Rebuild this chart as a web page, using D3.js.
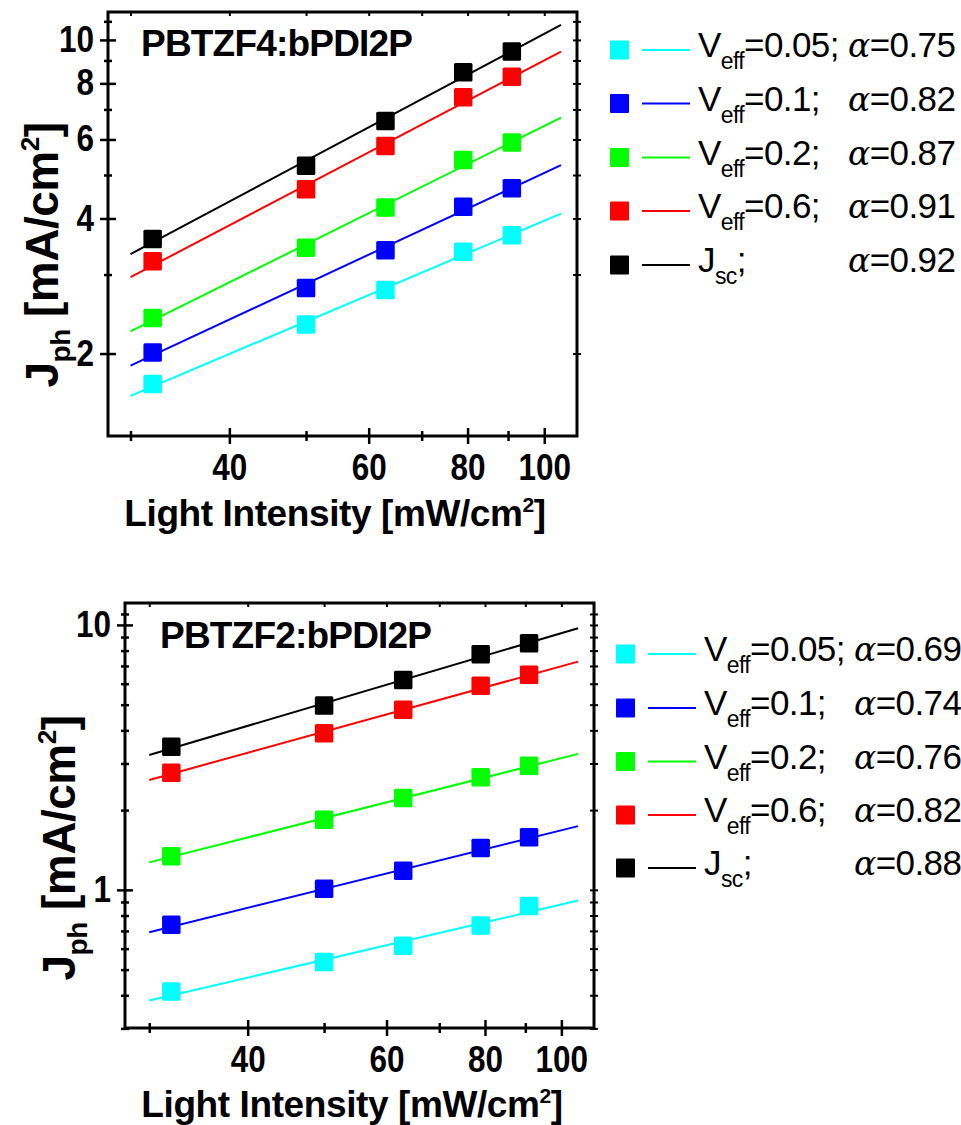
<!DOCTYPE html>
<html><head><meta charset="utf-8">
<script src="https://cdn.jsdelivr.net/npm/d3@7"></script>
<style>
body{margin:0;background:#fff}
svg{display:block}
text{font-family:"Liberation Sans",Arial,Helvetica,sans-serif}
</style>
</head><body>
<svg id="chart" width="961" height="1125"></svg>
<script>
// ---------------- DATA ----------------
const intensity = [32, 50, 63, 79, 91];          // mW/cm^2, measured points
const fitIntensity = [30, 105];                   // extent of the fitted lines
const xTickValues = [30, 40, 50, 60, 70, 80, 90, 100];
const xTickLabels = {40: "40", 60: "60", 80: "80", 100: "100"};
const seriesColors = ["#00ffff", "#0000ff", "#00ff00", "#ff0000", "#000000"];
const seriesMain = ["V", "V", "V", "V", "J"];
const seriesSub = ["eff", "eff", "eff", "eff", "sc"];
const seriesRest = ["=0.05;", "=0.1;", "=0.2;", "=0.6;", ";"];

// Panel A : PBTZF4:bPDI2P
const titleA = "PBTZF4:bPDI2P";
const jphA_V005 = [1.71, 2.32, 2.77, 3.37, 3.67];
const jphA_V01  = [2.01, 2.80, 3.40, 4.25, 4.67];
const jphA_V02  = [2.40, 3.44, 4.23, 5.40, 5.91];
const jphA_V06  = [3.21, 4.65, 5.80, 7.45, 8.28];
const jphA_Jsc  = [3.60, 5.24, 6.60, 8.47, 9.42];
const fitA_V005 = [1.61, 4.10];
const fitA_V01  = [1.88, 5.26];
const fitA_V02  = [2.24, 6.71];
const fitA_V06  = [2.96, 9.42];
const fitA_Jsc  = [3.33, 10.8];
const alphaA = ["0.75", "0.82", "0.87", "0.91", "0.92"];
const yTickValuesA = [2, 3, 4, 5, 6, 7, 8, 9, 10, 11];
const yTickLabelsA = {2: "2", 4: "4", 6: "6", 8: "8", 10: "10"};

// Panel B : PBTZF2:bPDI2P
const titleB = "PBTZF2:bPDI2P";
const jphB_V005 = [0.413, 0.534, 0.615, 0.733, 0.870];
const jphB_V01  = [0.738, 1.01, 1.18, 1.44, 1.58];
const jphB_V02  = [1.34, 1.84, 2.22, 2.66, 2.94];
const jphB_V06  = [2.77, 3.90, 4.78, 5.89, 6.48];
const jphB_Jsc  = [3.47, 4.96, 6.20, 7.75, 8.53];
const fitB_V005 = [0.382, 0.911];
const fitB_V01  = [0.692, 1.74];
const fitB_V02  = [1.27, 3.26];
const fitB_V06  = [2.60, 7.27];
const fitB_Jsc  = [3.23, 9.72];
const alphaB = ["0.69", "0.74", "0.76", "0.82", "0.88"];
const yTickValuesB = [0.3, 0.4, 0.5, 0.6, 0.7, 0.8, 0.9, 1, 2, 3, 4, 5, 6, 7, 8, 9, 10, 11];
const yTickLabelsB = {1: "1", 10: "10"};

// ---------------- DRAWING ----------------
const svg = d3.select("#chart");
const FONT = '"Liberation Sans",Arial,sans-serif';

function drawPanel(p) {
  const g = svg.append("g");
  const x = d3.scaleLog().domain(p.xDomain).range([p.left, p.right]);
  const y = d3.scaleLog().domain(p.yDomain).range([p.bottom, p.top]);
  const isMajorX = v => xTickLabels[v] !== undefined;
  const isMajorY = v => p.yLabels[v] !== undefined;

  // fitted lines
  p.fits.forEach((f, i) => {
    g.append("path")
      .datum(fitIntensity.map((v, k) => [v, f[k]]))
      .attr("d", d3.line().x(d => x(d[0])).y(d => y(d[1])))
      .attr("fill", "none").attr("stroke", seriesColors[i]).attr("stroke-width", 2);
  });
  // markers
  const ms = 18.5;
  p.series.forEach((s, i) => {
    g.selectAll(null).data(intensity.map((v, k) => [v, s[k]])).join("rect")
      .attr("x", d => x(d[0]) - ms / 2).attr("y", d => y(d[1]) - ms / 2)
      .attr("width", ms).attr("height", ms).attr("rx", 1.5)
      .attr("fill", seriesColors[i]);
  });

  // frame
  g.append("rect").attr("x", p.left).attr("y", p.top)
    .attr("width", p.right - p.left).attr("height", p.bottom - p.top)
    .attr("fill", "none").attr("stroke", "#000").attr("stroke-width", 3);

  // bottom axis
  const xa = g.append("g").attr("transform", `translate(0,${p.bottom})`)
    .call(d3.axisBottom(x).tickValues(xTickValues).tickFormat(v => xTickLabels[v] || "")
      .tickSizeOuter(0).tickSizeInner(8).tickPadding(10));
  xa.select(".domain").remove();
  xa.selectAll(".tick line").attr("stroke", "#000").attr("stroke-width", 2.5)
    .attr("y1", d => isMajorX(d) ? -8 : -5).attr("y2", d => isMajorX(d) ? 8 : 5);
  xa.selectAll(".tick text").attr("font-size", 36).attr("font-weight", "bold")
    .attr("dy", "0.71em").attr("fill", "#000").attr("font-family", FONT)
    .attr("textLength", d => (xTickLabels[d] || "").length * 17.5)
    .attr("lengthAdjust", "spacingAndGlyphs");

  // top mirrored ticks
  const xt = g.append("g").attr("transform", `translate(0,${p.top})`)
    .call(d3.axisTop(x).tickValues(xTickValues).tickFormat("").tickSizeOuter(0).tickSizeInner(-4));
  xt.select(".domain").remove();
  xt.selectAll(".tick line").attr("stroke", "#000").attr("stroke-width", 2);

  // left axis
  const ya = g.append("g").attr("transform", `translate(${p.left},0)`)
    .call(d3.axisLeft(y).tickValues(p.yTicks).tickFormat(v => p.yLabels[v] || "")
      .tickSizeOuter(0).tickSizeInner(8).tickPadding(6));
  ya.select(".domain").remove();
  ya.selectAll(".tick line").attr("stroke", "#000").attr("stroke-width", 2.5)
    .attr("x1", d => isMajorY(d) ? 8 : 4).attr("x2", d => isMajorY(d) ? -8 : -4);
  ya.selectAll(".tick text").attr("font-size", 36).attr("font-weight", "bold")
    .attr("fill", "#000").attr("font-family", FONT)
    .attr("textLength", d => (p.yLabels[d] || "").length * 17.5)
    .attr("lengthAdjust", "spacingAndGlyphs");

  // right mirrored ticks
  const yr = g.append("g").attr("transform", `translate(${p.right},0)`)
    .call(d3.axisRight(y).tickValues(p.yTicks).tickFormat("").tickSizeOuter(0).tickSizeInner(4));
  yr.select(".domain").remove();
  yr.selectAll(".tick line").attr("stroke", "#000").attr("stroke-width", 2).attr("x1", -4);

  // title
  g.append("text").attr("x", p.titleX).attr("y", p.titleY)
    .attr("font-size", 37).attr("font-weight", "bold").attr("letter-spacing", -0.8)
    .text(p.title);

  // x label
  const xl = g.append("text").attr("x", p.xLabelX).attr("y", p.xLabelY)
    .attr("text-anchor", "middle").attr("font-size", 37).attr("font-weight", "bold")
    .attr("letter-spacing", -0.4);
  xl.append("tspan").text("Light Intensity [mW/cm");
  xl.append("tspan").attr("font-size", 21).attr("dy", -14).text("2");
  xl.append("tspan").attr("dy", 14).text("]");

  // y label
  const yl = g.append("text")
    .attr("transform", `translate(${p.yLabelX},${p.yLabelY}) rotate(-90)`)
    .attr("text-anchor", "middle").attr("font-size", 46).attr("font-weight", "bold")
    .attr("letter-spacing", -0.5);
  yl.append("tspan").text("J");
  yl.append("tspan").attr("font-size", 28).attr("dy", 12).text("ph");
  yl.append("tspan").attr("dy", -12).text(" [mA/cm");
  yl.append("tspan").attr("font-size", 26).attr("dy", -19).text("2");
  yl.append("tspan").attr("dy", 19).text("]");

  // legend
  const lg = g.append("g");
  p.legendRows.forEach((ry, i) => {
    lg.append("rect").attr("x", p.legX).attr("y", ry - 9.5).attr("width", 19).attr("height", 19)
      .attr("rx", 1).attr("fill", seriesColors[i]);
    lg.append("line").attr("x1", p.legX + 32).attr("x2", p.legX + 80)
      .attr("y1", ry).attr("y2", ry).attr("stroke", seriesColors[i]).attr("stroke-width", 2);
    const t = lg.append("text").attr("x", p.legX + 88).attr("y", ry + 7).attr("font-size", 35)
      .attr("letter-spacing", -0.6);
    t.append("tspan").text(seriesMain[i]);
    t.append("tspan").attr("font-size", 23).attr("dy", 12).text(seriesSub[i]);
    t.append("tspan").attr("dy", -12).text(seriesRest[i]);
    const a = lg.append("text").attr("x", p.legX + 238).attr("y", ry + 7).attr("font-size", 35)
      .attr("letter-spacing", -0.6);
    a.append("tspan").attr("font-family", '"DejaVu Serif","Liberation Serif",serif')
      .attr("font-style", "italic").attr("font-size", 33).text("α");
    a.append("tspan").text("=" + p.alpha[i]);
  });
}

drawPanel({
  left: 108, right: 577, top: 12, bottom: 436,
  xDomain: [28.1, 110], yDomain: [1.31, 11.54],
  series: [jphA_V005, jphA_V01, jphA_V02, jphA_V06, jphA_Jsc],
  fits: [fitA_V005, fitA_V01, fitA_V02, fitA_V06, fitA_Jsc],
  yTicks: yTickValuesA, yLabels: yTickLabelsA,
  title: titleA, titleX: 141, titleY: 56,
  xLabelX: 335, xLabelY: 526, yLabelX: 58, yLabelY: 255,
  legX: 610, legendRows: [50, 103.5, 157.5, 211, 265], alpha: alphaA
});

drawPanel({
  left: 125, right: 594, top: 603, bottom: 1028,
  xDomain: [27.95, 110], yDomain: [0.301, 12.1],
  series: [jphB_V005, jphB_V01, jphB_V02, jphB_V06, jphB_Jsc],
  fits: [fitB_V005, fitB_V01, fitB_V02, fitB_V06, fitB_Jsc],
  yTicks: yTickValuesB, yLabels: yTickLabelsB,
  title: titleB, titleX: 160, titleY: 648,
  xLabelX: 352, xLabelY: 1117, yLabelX: 75, yLabelY: 848,
  legX: 616, legendRows: [654, 708, 761.5, 815, 868], alpha: alphaB
});
</script>
</body></html>
